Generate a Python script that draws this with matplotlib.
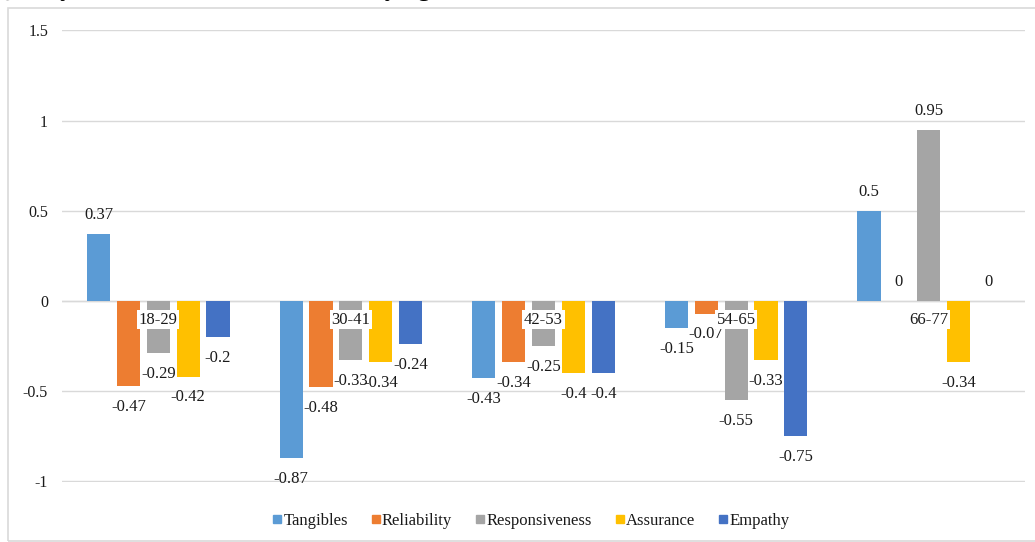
import matplotlib
matplotlib.use('Agg')
import matplotlib.pyplot as plt
from matplotlib.lines import Line2D
from matplotlib.patches import Rectangle
import numpy as np

plt.rcParams['font.family'] = ['Liberation Serif', 'DejaVu Serif']

# mean gap scores per age group
age_groups = ['18-29', '30-41', '42-53', '54-65', '66-77']
dimensions = ['Tangibles', 'Reliability', 'Responsiveness', 'Assurance', 'Empathy']
tangibles = [0.37, -0.87, -0.43, -0.15, 0.5]
reliability = [-0.47, -0.48, -0.34, -0.07, 0]
responsiveness = [-0.29, -0.33, -0.25, -0.55, 0.95]
assurance = [-0.42, -0.34, -0.4, -0.33, -0.34]
empathy = [-0.2, -0.24, -0.4, -0.75, 0]
yticks = [1.5, 1, 0.5, 0, -0.5, -1]
ytick_labels = ['1.5', '1', '0.5', '0', '-0.5', '-1']

series = [tangibles, reliability, responsiveness, assurance, empathy]
colors = ['#5B9BD5', '#ED7D31', '#A5A5A5', '#FFC000', '#4472C4']
txt = '#1a1a1a'
fs = 12

W, H = 1035, 542
fig = plt.figure(figsize=(W / 100, H / 100), dpi=100)
ax = fig.add_axes([62 / W, 1 - 482 / H, (1025 - 62) / W, (482 - 30) / H])

# chart frame
fig.patches.append(Rectangle((8 / W, 1 / H), 1.0, 1 - 9 / H, transform=fig.transFigure,
                             fill=False, edgecolor='#d9d9d9', lw=1.2, zorder=0))

# heading, mostly above the top edge
fig.text(-8 / W, 1 + 4 / H, 'Quality Dimension Scores across Varying', fontsize=18,
         fontweight='bold', ha='left', va='baseline', color='black')

x = np.arange(len(age_groups))
step = 0.155
width = 0.12
for k, (vals, col, name) in enumerate(zip(series, colors, dimensions)):
    xs = x + (k - 2) * step
    ax.bar(xs, vals, width=width, color=col, zorder=2, label=name)
    for xi, v in zip(xs, vals):
        if v >= 0:
            ax.annotate('%g' % v, (xi, v), xytext=(0, 13.5), textcoords='offset points',
                        ha='center', va='center', fontsize=fs, color=txt, zorder=4)
        else:
            ax.annotate('%g' % v, (xi, v), xytext=(0, -15), textcoords='offset points',
                        ha='center', va='center', fontsize=fs, color=txt, zorder=4)

# category labels sit on the zero line
for xi, lab in zip(x, age_groups):
    ax.annotate(lab, (xi, 0), xytext=(0, -13.5), textcoords='offset points',
                ha='center', va='center', fontsize=fs, color=txt, zorder=5,
                bbox=dict(boxstyle='square,pad=0.1', fc='white', ec='none'))

ax.set_xlim(-0.5, 4.5)
ax.set_ylim(-1.004, 1.502)
ax.set_xticks([])
ax.set_yticks(yticks)
ax.set_yticklabels(ytick_labels, fontsize=11.5, color=txt)
ax.tick_params(axis='y', length=0, pad=10)
ax.grid(axis='y', color='#d9d9d9', lw=1, zorder=0)
ax.axhline(0, color='#d9d9d9', lw=1, zorder=1)
for sp in ax.spines.values():
    sp.set_visible(False)

handles = [Line2D([], [], marker='s', ls='', color=c, markersize=5.5) for c in colors]
fig.legend(handles, dimensions, loc='center', bbox_to_anchor=(531 / W, 1 - 521 / H),
           ncol=5, frameon=False, fontsize=fs, handlelength=0.55, handletextpad=0.1,
           columnspacing=1.4, labelcolor=txt)

fig.savefig('out.png', dpi=100)
